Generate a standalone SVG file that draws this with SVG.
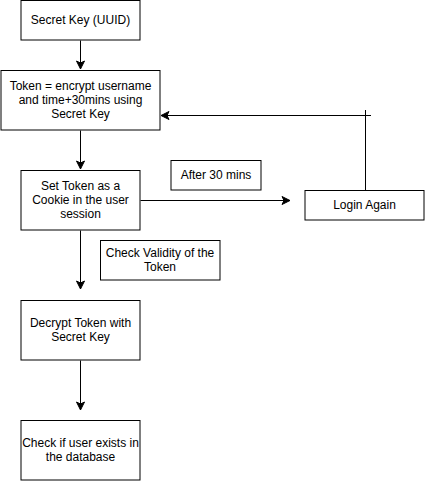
<svg xmlns="http://www.w3.org/2000/svg" width="426" height="481" viewBox="0 0 426 481">
<style>
.box{fill:#fff;stroke:#000;stroke-width:1}
.t{font-family:"Liberation Sans",Arial,Helvetica,sans-serif;font-size:12px;fill:#000;text-anchor:middle}
.e{fill:none;stroke:#000;stroke-width:1}
</style>
<defs>
<marker id="arr" viewBox="0 0 10 10" refX="9" refY="5" markerWidth="10" markerHeight="10" markerUnits="userSpaceOnUse" orient="auto">
<path d="M1,1 L9,5 L1,9 L3,5 Z" fill="#000" stroke="#000" stroke-width="1"/>
</marker>
</defs>
<rect width="426" height="481" fill="#fff"/>
<g id="connectors">
<path class="e" d="M80.5,40.5 L80.5,69" marker-end="url(#arr)"/>
<path class="e" d="M80.5,130.5 L80.5,169" marker-end="url(#arr)"/>
<path class="e" d="M80.5,230.5 L80.5,289" marker-end="url(#arr)"/>
<path class="e" d="M80.5,360.5 L80.5,410" marker-end="url(#arr)"/>
<path class="e" d="M140.5,200.5 L290,200.5" marker-end="url(#arr)"/>
<path class="e" d="M365.5,190 L365.5,110"/>
<path class="e" d="M371,115.5 L161,115.5" marker-end="url(#arr)"/>
</g>
<g id="secret-key">
<rect class="box" x="21" y="0.5" width="119" height="39.5"/>
<text class="t" x="80.5" y="24">Secret Key (UUID)</text>
</g>
<g id="token">
<rect class="box" x="1" y="70.5" width="159" height="59.5"/>
<text class="t" x="80.5" y="90">Token = encrypt username</text>
<text class="t" x="80.5" y="104">and time+30mins using</text>
<text class="t" x="80.5" y="118">Secret Key</text>
</g>
<g id="set-token">
<rect class="box" x="21" y="170.5" width="119" height="59.5"/>
<text class="t" x="80.5" y="190">Set Token as a</text>
<text class="t" x="80.5" y="204">Cookie in the user</text>
<text class="t" x="80.5" y="218">session</text>
</g>
<g id="after-30">
<rect class="box" x="171" y="160.5" width="90" height="29.5"/>
<text class="t" x="216" y="179">After 30 mins</text>
</g>
<g id="login-again">
<rect class="box" x="305" y="190.5" width="119" height="29.5"/>
<text class="t" x="364.5" y="209">Login Again</text>
</g>
<g id="check-validity">
<rect class="box" x="100.5" y="240.5" width="119.5" height="39.5"/>
<text class="t" x="160" y="257">Check Validity of the</text>
<text class="t" x="160" y="271">Token</text>
</g>
<g id="decrypt">
<rect class="box" x="21" y="300.5" width="119" height="59.5"/>
<text class="t" x="80.5" y="327">Decrypt Token with</text>
<text class="t" x="80.5" y="341">Secret Key</text>
</g>
<g id="check-user">
<rect class="box" x="21" y="420.5" width="119" height="59.5"/>
<text class="t" x="80.5" y="447">Check if user exists in</text>
<text class="t" x="80.5" y="461">the database</text>
</g>
</svg>
